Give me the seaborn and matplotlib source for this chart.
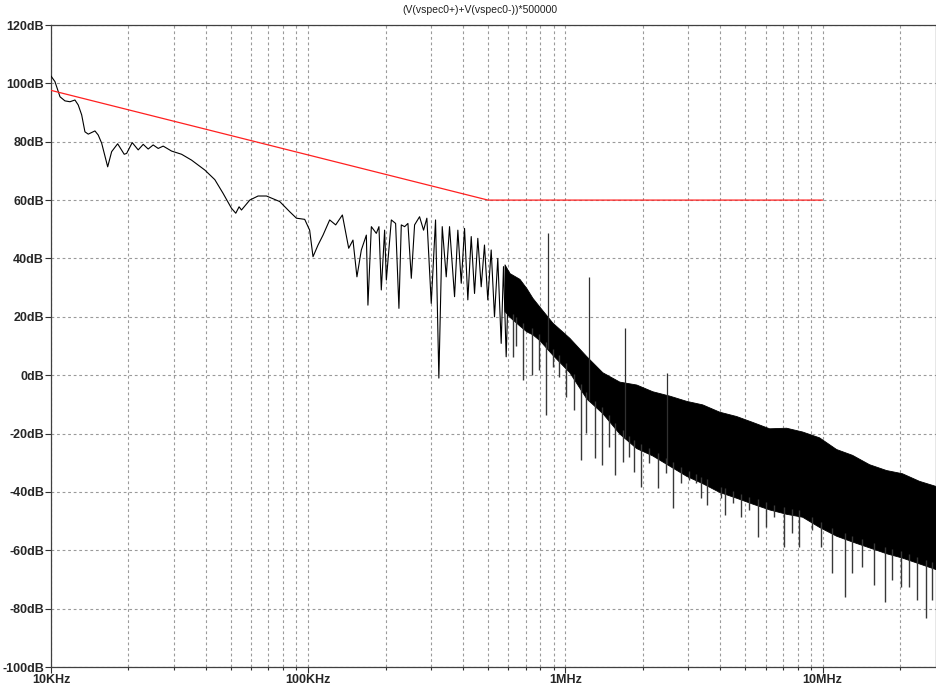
import numpy as np
import pandas as pd
import seaborn as sns
import matplotlib.pyplot as plt
from matplotlib.ticker import FixedLocator, NullFormatter

# ---- data (frequency in kHz, level in dB) ----
# smooth low-frequency part + comb region of the black trace
trace_khz = [10.0, 10.36, 10.84, 11.33, 11.85, 12.39, 12.76, 13.16, 13.55, 13.96,
             14.82, 15.26, 15.74, 16.61, 17.21, 18.16, 19.26, 19.68, 20.69, 21.83,
             22.83, 23.87, 24.96, 26.11, 27.30, 29.43, 32.19, 35.19, 39.63, 43.35,
             46.68, 50.31, 52.29, 53.86, 55.03, 59.27, 63.83, 68.83, 77.50, 84.78,
             90.0, 96.92, 101.3, 104.4, 109.2, 114.2, 121.2, 127.9, 135.8, 143.7,
             149.3, 154.7, 160.9, 168.3, 170.7, 176.0, 184.0, 188.4, 192.4, 198.2,
             201.3, 210.5, 218.7, 225.3, 230.1, 237.1, 244.2, 251.7, 259.2, 271.0,
             280.9, 289.3, 300.9, 312.7, 322.1, 332.0, 344.1, 354.4, 370.7, 381.8,
             393.6, 405.4, 417.5, 430.4, 443.3, 456.5, 470.6, 484.6, 499.2, 514.6,
             530.0, 545.9, 562.8, 574.5, 588.5, 602.3]
trace_db = [102.5, 100.6, 95.4, 94.0, 93.7, 94.3, 92.6, 89.2, 83.4, 82.6,
            83.7, 82.3, 79.5, 71.4, 76.6, 79.3, 75.7, 76.0, 79.7, 77.2,
            79.1, 77.5, 78.9, 77.7, 78.5, 76.8, 75.7, 73.7, 70.3, 67.0,
            62.3, 57.2, 55.5, 57.7, 56.6, 60.0, 61.4, 61.4, 59.5, 56.0,
            53.8, 53.4, 49.7, 40.6, 44.6, 48.0, 53.2, 51.5, 54.9, 43.5,
            46.3, 33.7, 42.9, 48.0, 24.0, 50.9, 48.6, 50.9, 29.2, 49.7,
            32.6, 53.2, 52.0, 22.9, 51.5, 50.9, 52.0, 33.2, 51.5, 54.3,
            49.7, 53.8, 24.6, 53.2, -1.0, 50.9, 33.7, 50.9, 26.9, 49.7,
            31.5, 50.3, 25.8, 47.5, 28.0, 46.9, 30.3, 44.6, 25.8, 42.9,
            20.0, 40.0, 10.9, 37.2, 6.3, 35.5]

# dense noise band above ~580 kHz: top edge and bottom of the solid black mass
band_khz = [579.7, 606.1, 662.9, 705.6, 744.5, 792.5, 890.3, 1036.3, 1206.6, 1392.2,
            1620.7, 1886.7, 2177.1, 2534.4, 2950.6, 3404.1, 3962.8, 4614.8, 5323.6, 6197.0,
            7216.1, 8327.2, 9691.6, 11282, 13018, 15157, 17646, 20354, 23698, 27596]
band_top = [38.0, 35.0, 33.0, 29.8, 26.5, 23.5, 18.0, 12.8, 6.5, 1.0,
            -2.2, -3.2, -5.5, -7.0, -8.8, -10.0, -12.5, -14.0, -16.0, -18.2,
            -18.0, -19.3, -21.3, -25.3, -27.3, -30.5, -32.5, -33.6, -36.2, -38.0]
band_bot = [22.0, 20.0, 17.0, 15.0, 14.0, 12.0, 7.0, 1.0, -8.0, -13.0,
            -20.0, -25.0, -27.5, -31.0, -34.5, -37.0, -40.0, -42.0, -44.0, -46.0,
            -47.5, -48.5, -52.0, -55.0, -57.0, -59.0, -61.0, -62.5, -64.5, -66.5]

# downward spikes below the band (kHz, minimum dB)
dip_khz = [624.2, 645.2, 687.0, 742.6, 787.7, 841.4, 892.7, 941.9, 1006.3, 1083.5,
           1150.6, 1203.0, 1307.6, 1388.3, 1482.1, 1563.8, 1669.2, 1772.2, 1853.5, 1967.9,
           2120.5, 2283.7, 2461.0, 2627.8, 2814.0, 3011.8, 3218.0, 3365.1, 3537.5, 3790.1,
           4023.0, 4181.0, 4463.9, 4813.5, 5183.5, 5584.7, 6017.3, 6480.0, 7087.4, 7632.5,
           8102.0, 9128.9, 9840.0, 10917, 12231, 13053, 14277, 15849, 17487, 18665,
           20119, 21676, 23345, 25301, 26700]
dip_db = [6.3, 10.0, -1.7, 0.0, 1.8, -13.6, 2.9, -0.5, -7.4, -12.0,
          -29.1, -19.9, -28.5, -30.8, -24.5, -34.2, -29.6, -27.9, -33.1, -38.2,
          -30.2, -38.8, -33.6, -45.6, -37.0, -35.9, -37.0, -42.2, -44.5, -37.0,
          -42.2, -47.9, -43.9, -48.5, -46.2, -55.4, -51.9, -48.5, -58.8, -54.2,
          -58.8, -53.1, -58.8, -67.9, -75.9, -67.9, -65.6, -71.9, -77.6, -70.2,
          -72.5, -72.5, -77.1, -83.3, -77.1]

# isolated upward spikes (kHz, peak dB)
peak_khz = [853.6, 1239.7, 1710.0, 2483.0]
peak_db = [48.6, 33.7, 16.0, 0.8]

# limit mask (red)
mask_khz = [10.0, 500.0, 10000.0]
mask_db = [97.6, 60.0, 60.0]

x_ticks = [1e4, 1e5, 1e6, 1e7]
x_labels = ['10KHz', '100KHz', '1MHz', '10MHz']
y_ticks = list(range(-100, 121, 20))

trace = pd.DataFrame({'f': np.array(trace_khz) * 1e3, 'db': trace_db})
mask = pd.DataFrame({'f': np.array(mask_khz) * 1e3, 'db': mask_db})
band_f = np.array(band_khz) * 1e3
dip_f = np.array(dip_khz) * 1e3
peak_f = np.array(peak_khz) * 1e3

sns.set_style('white')
plt.rcParams['font.family'] = ['Liberation Sans', 'DejaVu Sans']

fig = plt.figure(figsize=(9.37, 6.89), dpi=100)
ax = fig.add_axes([51 / 937, 1 - 667 / 689, 885 / 937, 642 / 689])
ax.set_xscale('log')

# noise band
ax.fill_between(band_f, band_bot, band_top, color='black', linewidth=0.6, zorder=3)
ax.vlines(dip_f, dip_db, np.interp(dip_f, band_f, band_bot) + 2,
          color='#383838', linewidth=1.0, zorder=3)
ax.vlines(peak_f, np.interp(peak_f, band_f, band_bot), peak_db,
          color='#303030', linewidth=0.9, zorder=3)

sns.lineplot(data=trace, x='f', y='db', ax=ax, color='black', linewidth=0.8,
             estimator=None, sort=False, zorder=4)
sns.lineplot(data=mask, x='f', y='db', ax=ax, color='#ff2020', linewidth=0.9,
             estimator=None, sort=False, zorder=5)

ax.set_xlim(1e4, 27.6e6)
ax.set_ylim(-100, 120)

minors = [m * d for d in (1e4, 1e5, 1e6, 1e7) for m in range(2, 10) if m * d < 27.6e6]
ax.xaxis.set_major_locator(FixedLocator(x_ticks))
ax.xaxis.set_minor_locator(FixedLocator(minors))
ax.xaxis.set_minor_formatter(NullFormatter())
ax.set_xticklabels(x_labels, fontsize=9, fontweight='bold')
ax.set_yticks(y_ticks)
ax.set_yticklabels([f'{v}dB' for v in y_ticks], fontsize=9, fontweight='bold')

ax.grid(True, which='both', axis='x', color='#9a9a9a', linestyle=(0, (2.5, 2.5)), linewidth=0.8)
ax.grid(True, which='major', axis='y', color='#9a9a9a', linestyle=(0, (2.5, 2.5)), linewidth=0.8)
ax.set_axisbelow(True)

ax.tick_params(axis='both', which='major', direction='out', length=4, width=0.8,
               color='#303030', pad=1, left=True, bottom=True)
ax.tick_params(axis='x', which='minor', direction='out', length=2.5, width=0.8,
               color='#303030', bottom=True)
for s in ax.spines.values():
    s.set_color('#404040')
    s.set_linewidth(0.9)

ax.set_xlabel('')
ax.set_ylabel('')
fig.text(480 / 937, 1 - 10 / 689, '(V(vspec0+)+V(vspec0-))*500000', ha='center', va='center',
         fontsize=7.5, color='#202020')

fig.savefig('out.png', dpi=100)
